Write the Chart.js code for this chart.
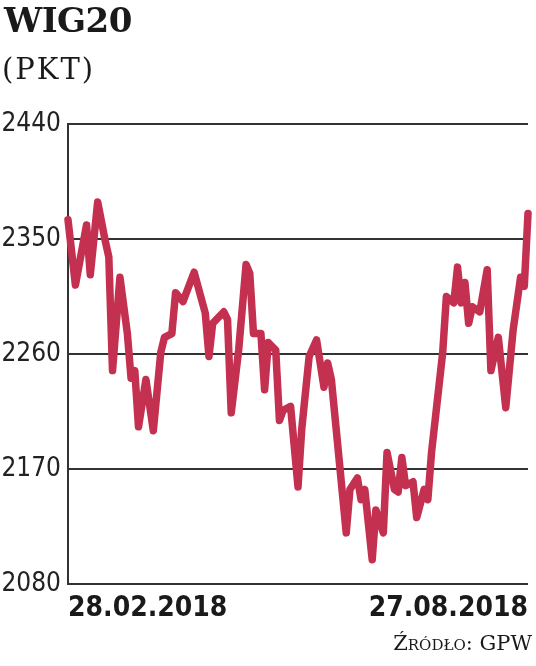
<!DOCTYPE html>
<html>
<head>
<meta charset="utf-8">
<script src="https://cdn.jsdelivr.net/npm/chart.js@4"></script>
<style>
  html, body { margin: 0; padding: 0; background: #fff; }
  #wrap { position: relative; width: 536px; height: 666px; overflow: hidden; }
  #chart { position: absolute; left: 0; top: 0; }
  .title { position: absolute; left: 4px; top: 0px; font-family: "DejaVu Serif", serif; font-weight: bold; font-size: 34px; color: #1a1a1a; letter-spacing: -0.5px; }
  .unit { position: absolute; left: 2px; top: 52px; font-family: "DejaVu Serif", serif; font-size: 29px; color: #1a1a1a; letter-spacing: 2px; }
  .source { position: absolute; right: 4px; top: 631px; font-family: "DejaVu Serif", serif; font-size: 21px; color: #1a1a1a; font-variant: small-caps; }
</style>
</head>
<body>
<div id="wrap">
  <canvas id="chart" width="536" height="666"></canvas>
  <div class="title">WIG20</div>
  <div class="unit">(PKT)</div>
  <div class="source">Źródło: GPW</div>
</div>
<script>
// WIG20 sesje 28.02.2018 - 27.08.2018 (numer sesji, wartość)
var sessionIdx = [0, 2, 5, 6, 8, 10, 11, 12, 14, 16, 17, 18, 19, 21, 23, 25, 26, 28, 29, 31,
  34, 37, 38, 39, 42, 43, 44, 46, 48, 49, 50, 52, 53, 54, 56, 57, 58, 60, 62, 63,
  65, 67, 69, 70, 71, 75, 76, 78, 79, 80, 82, 83, 85, 86, 88, 89, 90, 91, 93, 94,
  96, 97, 98, 101, 102, 104, 105, 106, 107, 108, 109, 111, 113, 114, 116, 118, 120, 122, 123, 124];
var wig20Values = [2365, 2314, 2361, 2322, 2379, 2349, 2336, 2247, 2320, 2276, 2241, 2247, 2203, 2240, 2200, 2261, 2273, 2276, 2308, 2301,
  2324, 2292, 2258, 2284, 2293, 2287, 2214, 2263, 2330, 2323, 2276, 2276, 2232, 2269, 2263, 2208, 2216, 2219, 2156, 2201,
  2258, 2271, 2234, 2253, 2240, 2120, 2154, 2163, 2146, 2154, 2099, 2138, 2120, 2183, 2154, 2152, 2179, 2157, 2160, 2132,
  2154, 2146, 2183, 2261, 2305, 2300, 2328, 2300, 2316, 2284, 2297, 2293, 2326, 2247, 2273, 2218, 2279, 2320, 2313, 2370];
var xTickLabels = ['28.02.2018', '27.08.2018'];
var yTickValues = [2080, 2170, 2260, 2350, 2440];

var points = [];
for (var i = 0; i < sessionIdx.length; i++) {
  points.push({ x: sessionIdx[i], y: wig20Values[i] });
}
var lastIdx = sessionIdx[sessionIdx.length - 1];

var ctx = document.getElementById('chart');
var chart = new Chart(ctx, {
  type: 'line',
  data: {
    datasets: [{
      data: points,
      borderColor: '#c4304f',
      borderWidth: 7.5,
      borderJoinStyle: 'round',
      borderCapStyle: 'round',
      pointRadius: 0,
      tension: 0,
      clip: false
    }]
  },
  options: {
    responsive: false,
    animation: false,
    layout: { padding: { left: 0, right: 6, top: 124, bottom: 0 } },
    plugins: { legend: { display: false }, tooltip: { enabled: false } },
    scales: {
      x: {
        type: 'linear',
        min: 0,
        max: lastIdx,
        afterBuildTicks: function (scale) {
          scale.ticks = [{ value: 0 }, { value: lastIdx }];
        },
        afterFit: function (scale) { scale.height = 82; },
        grid: { display: false, drawTicks: false },
        border: { display: false },
        ticks: {
          align: 'inner',
          maxRotation: 0,
          autoSkip: false,
          padding: 8,
          color: '#1a1a1a',
          font: { family: '"DejaVu Sans Condensed", sans-serif', size: 28, weight: 'bold' },
          callback: function (value) {
            return value === 0 ? xTickLabels[0] : xTickLabels[1];
          }
        }
      },
      y: {
        min: yTickValues[0],
        max: yTickValues[yTickValues.length - 1],
        afterBuildTicks: function (scale) {
          scale.ticks = yTickValues.map(function (v) { return { value: v }; });
        },
        afterFit: function (scale) { scale.width = 68; },
        grid: { color: '#333', lineWidth: 2, drawTicks: false },
        border: { display: true, color: '#333', width: 2 },
        ticks: {
          padding: 7,
          color: '#222',
          font: { family: '"DejaVu Sans Condensed", sans-serif', size: 26 },
          callback: function (value) { return value; }
        }
      }
    }
  }
});
</script>
</body>
</html>
